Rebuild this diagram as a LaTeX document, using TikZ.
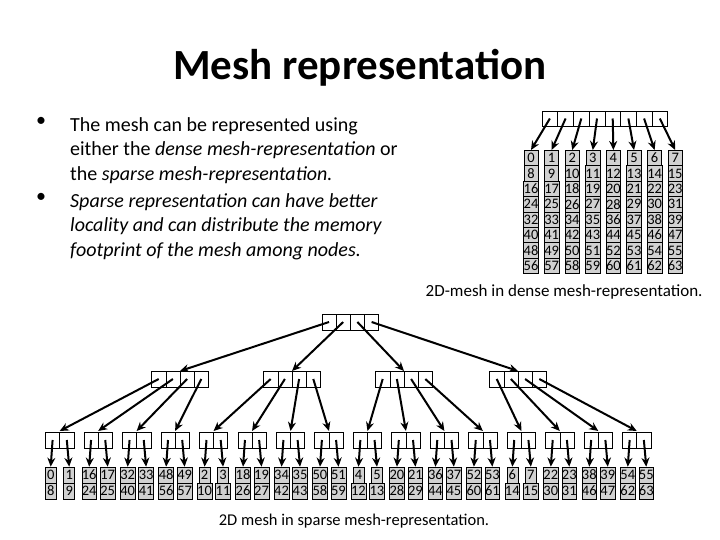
\documentclass[tikz,border=0pt]{standalone}
\usepackage{fontspec}
\setmainfont{Carlito}
\usetikzlibrary{arrows.meta}
\begin{document}
\begin{tikzpicture}[x=1pt,y=-1pt,
  cell/.style={draw,line width=0.6pt,minimum width=14.2pt,minimum height=16pt,inner sep=0pt},
  leaf/.style={draw,line width=0.6pt,fill=black!18,minimum width=11pt,minimum height=16pt,inner sep=0pt,font=\fontsize{14.5}{14.5}\selectfont},
  dcell/.style={draw,line width=0.6pt,fill=black!18,minimum width=14pt,minimum height=15.4pt,inner sep=0pt,font=\fontsize{14.5}{14.5}\selectfont},
  arr/.style={-{Stealth[length=9pt,width=8pt]},line width=2pt},
  bul/.style={anchor=north west,align=left,inner sep=0pt,font=\fontsize{20}{24.5}\selectfont}]
\useasboundingbox (0,0) rectangle (720,540);
\node[font=\fontsize{43}{43}\selectfont\bfseries] (title) at (360,68) {Mesh representation};
\node[bul] (b1) at (36,117) {•};
\node[bul] (t1) at (70,117) {The mesh can be represented using\\either the \emph{dense mesh-representation} or\\the \emph{sparse mesh-representation.}};
\node[bul] (b2) at (36,193) {•};
\node[bul] (t2) at (70,193) {\emph{Sparse representation can have better}\\\emph{locality and can distribute the memory}\\\emph{footprint of the mesh among nodes.}};
% dense mesh
\foreach \c in {0,...,7}{
  \node[cell,minimum width=15.7pt,minimum height=15pt] (d\c) at ({549.9+15.7*\c},118.5) {};
  \foreach \r in {0,...,7}{
    \pgfmathtruncatemacro{\v}{8*\r+\c}
    \node[dcell] (e\c-\r) at ({531+20.6*\c},{158+15.4*\r}) {\v};
  }
  \draw[arr] (d\c.center) -- (e\c-0.north);
}
\node[anchor=east,font=\fontsize{17}{17}\selectfont] (cap1) at (706,292) {2D-mesh in dense mesh-representation.};
% sparse tree
\foreach \i in {0,...,3}{\node[cell] (r\i) at ({329+14.2*\i},322) {};}
\foreach \m/\cx in {0/180,1/292,2/404,3/518}{
  \foreach \j in {0,...,3}{
    \node[cell] (m\m-\j) at ({\cx-21.3+14.2*\j},379) {};
  }
  \draw[arr] (r\m.center) -- ({\cx},371);
  \foreach \j in {0,...,3}{
    \pgfmathtruncatemacro{\k}{4*\m+\j}
    \pgfmathsetmacro{\sx}{59.7+38.47*\k}
    \node[cell] (s\k-0) at ({\sx-7.1},440) {};
    \node[cell] (s\k-1) at ({\sx+7.1},440) {};
    \draw[arr] (m\m-\j.center) -- ({\sx},431);
    \foreach \p in {0,1}{
      \pgfmathtruncatemacro{\a}{2*\m+16*\j+\p}
      \pgfmathtruncatemacro{\b}{\a+8}
      \node[leaf] (l\k-\p-a) at ({\sx-9+18.5*\p},475) {\a};
      \node[leaf] (l\k-\p-b) at ({\sx-9+18.5*\p},491) {\b};
      \draw[arr] (s\k-\p.center) -- (l\k-\p-a.north);
    }
  }
}
\node[font=\fontsize{16.5}{16.5}\selectfont] (cap2) at (354,521) {2D mesh in sparse mesh-representation.};
\end{tikzpicture}
\end{document}
